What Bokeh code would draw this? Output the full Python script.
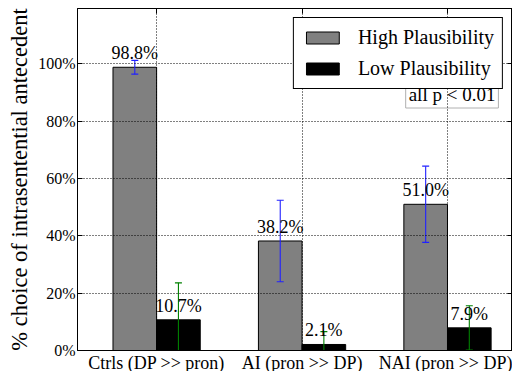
from bokeh.plotting import figure
from bokeh.models import (Range1d, FixedTicker, LinearAxis, Label, Legend, LegendItem,
                          ColumnDataSource, CustomJSTickFormatter)
from bokeh.embed import file_html
from bokeh.resources import INLINE
from bokeh.core.properties import value

# ---- data ----
categories = ["Ctrls (DP >> pron)", "AI (pron >> DP)", "NAI (pron >> DP)"]
positions = [0, 1, 2]
high_vals = [98.8, 38.2, 51.0]
low_vals = [10.7, 2.1, 7.9]
high_err = [2.4, 14.2, 13.3]
low_err = [12.9, 4.5, 7.7]
yticks = [0, 20, 40, 60, 80, 100]
ytick_labels = ["0%", "20%", "40%", "60%", "80%", "100%"]

FONT = "Liberation Serif"
W = 0.3

high_x = [p - W / 2 for p in positions]
low_x = [p + W / 2 for p in positions]

src_h = ColumnDataSource(dict(
    x=high_x, top=high_vals,
    lo=[v - e for v, e in zip(high_vals, high_err)],
    hi=[v + e for v, e in zip(high_vals, high_err)],
    lab=["%.1f%%" % v for v in high_vals]))
src_l = ColumnDataSource(dict(
    x=low_x, top=low_vals,
    lo=[v - e for v, e in zip(low_vals, low_err)],
    hi=[v + e for v, e in zip(low_vals, low_err)],
    lab=["%.1f%%" % v for v in low_vals]))

p = figure(frame_width=435, frame_height=342, output_backend="svg", toolbar_location=None,
           x_range=Range1d(-0.544, 2.447), y_range=Range1d(0, 119.3),
           min_border_left=77, min_border_right=0, min_border_top=8, min_border_bottom=0)
p.background_fill_color = "white"
p.border_fill_color = "white"
p.outline_line_color = "black"
p.outline_line_width = 1

# grid
p.xgrid.ticker = FixedTicker(ticks=positions)
p.ygrid.ticker = FixedTicker(ticks=yticks)
for g in (p.xgrid, p.ygrid):
    g.grid_line_color = "black"
    g.grid_line_dash = "1 2"
    g.grid_line_width = 1
    g.level = "annotation"

# note box (under grid)
note = Label(x=2.35, y=89.3, text="all p < 0.01", text_align="right", text_baseline="middle",
             text_font=FONT, text_font_size="19px", text_color="black",
             border_line_color="#b0b0b0", border_line_width=1,
             background_fill_color="white", padding=3, level="underlay")
p.add_layout(note)

# bars
rh = p.vbar(x="x", top="top", width=W, bottom=0, source=src_h,
            fill_color="#808080", line_color="black", line_width=1)
rl = p.vbar(x="x", top="top", width=W, bottom=0, source=src_l,
            fill_color="black", line_color="black", line_width=1)

# error bars
p.segment(x0="x", y0="lo", x1="x", y1="hi", source=src_h, line_color="#2020ff", line_width=1.1)
p.dash(x="x", y="lo", source=src_h, size=7, line_color="#2020ff", line_width=1.1)
p.dash(x="x", y="hi", source=src_h, size=7, line_color="#2020ff", line_width=1.1)
p.segment(x0="x", y0="lo", x1="x", y1="hi", source=src_l, line_color="green", line_width=1.1)
p.dash(x="x", y="lo", source=src_l, size=7, line_color="green", line_width=1.1)
p.dash(x="x", y="hi", source=src_l, size=7, line_color="green", line_width=1.1)

# value labels
for s in (src_h, src_l):
    p.text(x="x", y="top", text="lab", source=s, text_align="center",
           text_baseline="alphabetic", y_offset=-14,
           text_font=value(FONT), text_font_size="18px", text_color="black")

# axes
p.xaxis.ticker = FixedTicker(ticks=positions)
p.xaxis.major_label_overrides = {pos: c for pos, c in zip(positions, categories)}
p.yaxis.ticker = FixedTicker(ticks=yticks)
p.yaxis.major_label_overrides = {t: l for t, l in zip(yticks, ytick_labels)}
p.yaxis.axis_label = "% choice of intrasentential antecedent"
for ax in (p.xaxis, p.yaxis):
    ax.axis_line_color = "black"
    ax.major_tick_in = 5
    ax.major_tick_out = 0
    ax.minor_tick_line_color = None
    ax.major_tick_line_color = "black"
    ax.major_label_text_font = FONT
    ax.major_label_text_color = "black"
    ax.major_label_standoff = 2
p.xaxis.major_label_text_font_size = "18px"
p.yaxis.major_label_text_font_size = "16px"
p.yaxis.axis_label_text_font = FONT
p.yaxis.axis_label_text_font_size = "22.5px"
p.yaxis.axis_label_text_font_style = "normal"
p.yaxis.axis_label_text_color = "black"
p.yaxis.axis_label_standoff = 3

# right & top axes with ticks only (no labels)
blank = CustomJSTickFormatter(code="return '';")
ra = LinearAxis(ticker=FixedTicker(ticks=yticks), major_tick_in=5, major_tick_out=0,
                minor_tick_line_color=None, formatter=blank, major_label_standoff=0)
p.add_layout(ra, "right")
ta = LinearAxis(ticker=FixedTicker(ticks=positions), major_tick_in=5, major_tick_out=0,
                minor_tick_line_color=None, formatter=blank, major_label_standoff=0)
p.add_layout(ta, "above")

# legend
legend = Legend(items=[LegendItem(label="High Plausibility", renderers=[rh]),
                       LegendItem(label="Low Plausibility", renderers=[rl])],
                location="top_right", margin=9, padding=8, spacing=8,
                glyph_width=41, glyph_height=15, label_height=20, label_standoff=15,
                label_text_font=FONT, label_text_font_size="20px",
                label_text_font_style="normal", label_text_color="black",
                border_line_color="black", border_line_width=1, border_line_alpha=1,
                background_fill_color="white", background_fill_alpha=1)
p.add_layout(legend, "center")

open("out.html", "w").write(file_html(p, INLINE))
